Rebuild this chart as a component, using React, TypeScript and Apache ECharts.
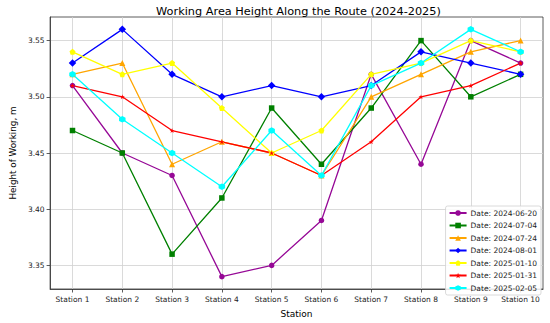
import React, { useEffect, useRef } from "react";
import * as echarts from "echarts";

const stations = ["Station 1", "Station 2", "Station 3", "Station 4", "Station 5", "Station 6", "Station 7", "Station 8", "Station 9", "Station 10"];
const yTicks = [3.35, 3.4, 3.45, 3.5, 3.55];

const d20240620 = [3.51, 3.45, 3.43, 3.34, 3.35, 3.39, 3.52, 3.44, 3.55, 3.53];
const d20240704 = [3.47, 3.45, 3.36, 3.41, 3.49, 3.44, 3.49, 3.55, 3.5, 3.52];
const d20240724 = [3.52, 3.53, 3.44, 3.46, 3.45, 3.43, 3.5, 3.52, 3.54, 3.55];
const d20240801 = [3.53, 3.56, 3.52, 3.5, 3.51, 3.5, 3.51, 3.54, 3.53, 3.52];
const d20250110 = [3.54, 3.52, 3.53, 3.49, 3.45, 3.47, 3.52, 3.53, 3.55, 3.54];
const d20250131 = [3.51, 3.5, 3.47, 3.46, 3.45, 3.43, 3.46, 3.5, 3.51, 3.53];
const d20250205 = [3.52, 3.48, 3.45, 3.42, 3.47, 3.43, 3.51, 3.53, 3.56, 3.54];

const PENTAGON = "path://M0,-1 L0.951,-0.309 L0.588,0.809 L-0.588,0.809 L-0.951,-0.309 Z";
const HEXAGON = "path://M0,-1 L0.866,-0.5 L0.866,0.5 L0,1 L-0.866,0.5 L-0.866,-0.5 Z";
const STAR = "path://M0,-1 L0.224,-0.309 L0.951,-0.309 L0.363,0.118 L0.588,0.809 L0,0.382 L-0.588,0.809 L-0.363,0.118 L-0.951,-0.309 L-0.224,-0.309 Z";

const seriesDefs = [
  { name: "Date: 2024-06-20", data: d20240620, color: "#960896", symbol: "circle", size: 5.5 },
  { name: "Date: 2024-07-04", data: d20240704, color: "#008000", symbol: "rect", size: 5.5 },
  { name: "Date: 2024-07-24", data: d20240724, color: "#FFA500", symbol: "triangle", size: 6 },
  { name: "Date: 2024-08-01", data: d20240801, color: "#0000FF", symbol: "diamond", size: 7.5 },
  { name: "Date: 2025-01-10", data: d20250110, color: "#FFFF00", symbol: PENTAGON, size: 6 },
  { name: "Date: 2025-01-31", data: d20250131, color: "#FF0000", symbol: STAR, size: 5 },
  { name: "Date: 2025-02-05", data: d20250205, color: "#00FFFF", symbol: HEXAGON, size: 6.5 },
];

const FONT = "DejaVu Sans";

export default function App() {
  const ref = useRef<HTMLDivElement>(null);
  useEffect(() => {
    if (!ref.current) return;
    const chart = echarts.init(ref.current, null, { renderer: "svg" });
    const xs = stations.map((_, i) => i + 1);
    chart.setOption({
      animation: false,
      backgroundColor: "#ffffff",
      title: {
        text: "Working Area Height Along the Route (2024-2025)",
        left: 293.5,
        textAlign: "center",
        top: 1,
        textStyle: { fontFamily: FONT, fontSize: 11.3, fontWeight: "normal", color: "#000" },
      },
      grid: {
        left: 44,
        right: 7,
        top: 17,
        bottom: 30,
        show: true,
        borderColor: "#333",
        borderWidth: 0.8,
        containLabel: false,
      },
      legend: {
        orient: "vertical",
        right: 9,
        top: 206,
        padding: [3, 4, 3, 3],
        itemGap: 4.5,
        itemWidth: 17,
        itemHeight: 7,
        backgroundColor: "rgba(255,255,255,0.85)",
        borderColor: "#d0d0d0",
        borderWidth: 0.8,
        borderRadius: 2,
        textStyle: { fontFamily: FONT, fontSize: 7.5, color: "#222", padding: [0, 0, 0, -1] },
        data: seriesDefs.map((s) => s.name),
      },
      xAxis: {
        type: "value",
        min: 0.55,
        max: 10.45,
        name: "Station",
        nameLocation: "middle",
        nameGap: 20,
        nameTextStyle: { fontFamily: FONT, fontSize: 9, color: "#000" },
        axisLine: { show: true, lineStyle: { color: "#333", width: 0.8 } },
        axisTick: { show: true, length: 3.5, lineStyle: { color: "#333", width: 0.8 }, customValues: xs },
        axisLabel: {
          customValues: xs,
          fontFamily: FONT,
          fontSize: 7.5,
          color: "#222",
          margin: 6.5,
          formatter: (v: number) => stations[Math.round(v) - 1] ?? "",
        },
        splitLine: { show: true, lineStyle: { color: "#d0d0d0", width: 0.8 } },
      },
      yAxis: {
        type: "value",
        min: 3.329,
        max: 3.571,
        name: "Height of Working, m",
        nameLocation: "middle",
        nameGap: 29,
        nameTextStyle: { fontFamily: FONT, fontSize: 8.8, color: "#000" },
        axisLine: { show: true, lineStyle: { color: "#333", width: 0.8 } },
        axisTick: { show: true, length: 3.5, lineStyle: { color: "#333", width: 0.8 }, customValues: yTicks },
        axisLabel: {
          customValues: yTicks,
          fontFamily: FONT,
          fontSize: 7.5,
          color: "#222",
          margin: 5.5,
          formatter: (v: number) => v.toFixed(2),
        },
        splitLine: { show: true, lineStyle: { color: "#d0d0d0", width: 0.8 } },
      },
      series: seriesDefs.map((s) => ({
        type: "line",
        name: s.name,
        data: s.data.map((v, i) => [i + 1, v]),
        symbol: s.symbol,
        symbolSize: s.size,
        showSymbol: true,
        lineStyle: { color: s.color, width: 1.3 },
        itemStyle: { color: s.color, borderWidth: 0 },
        color: s.color,
      })),
    });
    return () => chart.dispose();
  }, []);
  return <div ref={ref} style={{ position: "fixed", left: 0, top: 0, width: 550, height: 323 }} />;
}
